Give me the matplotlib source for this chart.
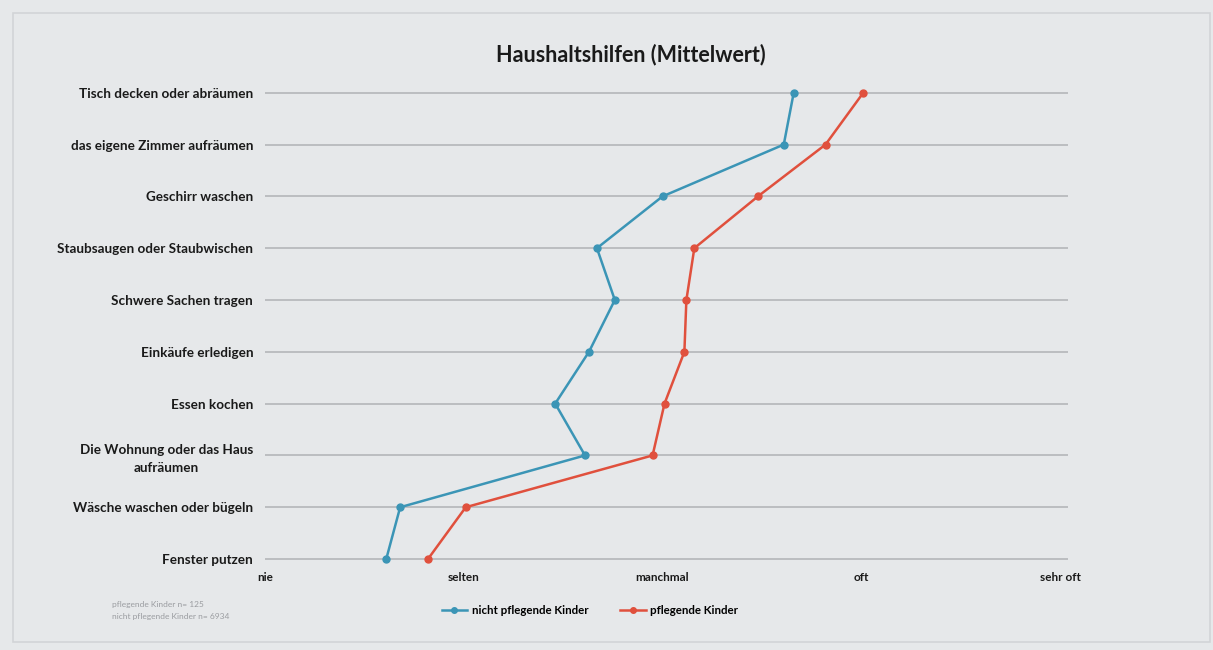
import numpy as np
import matplotlib
matplotlib.use('Agg')
import matplotlib.pyplot as plt
from matplotlib.patches import Rectangle

# Data (bottom to top as drawn)
tasks = ['Fenster putzen',
         'Wäsche waschen oder bügeln',
         'Die Wohnung oder das Haus\naufräumen',
         'Essen kochen',
         'Einkäufe erledigen',
         'Schwere Sachen tragen',
         'Staubsaugen oder Staubwischen',
         'Geschirr waschen',
         'das eigene Zimmer aufräumen',
         'Tisch decken oder abräumen',
         ]
nicht_pflegend = [1.61, 1.68, 2.61, 2.46, 2.63, 2.76, 2.67, 3.00, 3.61, 3.66]
pflegend = [1.82, 2.01, 2.95, 3.01, 3.11, 3.12, 3.16, 3.48, 3.82, 4.01]
scale_labels = ['nie', 'selten', 'manchmal', 'oft', 'sehr oft']
scale_values = [1, 2, 3, 4, 5]

BG = '#e6e8ea'
BLUE = '#3b95b6'
RED = '#e0503d'

plt.rcParams['font.family'] = ['Lato', 'DejaVu Sans']


def main():
    fig = plt.figure(figsize=(12.13, 6.5), dpi=100)
    fig.patch.set_facecolor(BG)
    fig.patches.append(Rectangle((13 / 1213, 8 / 650), 1197 / 1213, 629 / 650,
                                 transform=fig.transFigure, fill=False,
                                 edgecolor='#d2d4d7', linewidth=1.2))

    ax = fig.add_axes([265 / 1213, 1 - 569.4 / 650, 803 / 1213, 487 / 650])
    ax.set_facecolor(BG)
    y = np.arange(len(tasks))

    for yy in y:
        ax.axhline(yy, color='#b8babd', linewidth=1.3, zorder=1)

    ax.plot(nicht_pflegend, y, '-o', color=BLUE, linewidth=1.8, markersize=5,
            label='nicht pflegende Kinder', zorder=3)
    ax.plot(pflegend, y, '-o', color=RED, linewidth=1.8, markersize=5,
            label='pflegende Kinder', zorder=3)

    ax.set_xlim(1, 5.04)
    ax.set_ylim(-0.2, 9.2)
    ax.set_yticks(y)
    ax.set_yticklabels(tasks, fontsize=9.7, fontweight='bold',
                       multialignment='center', linespacing=1.6)
    ax.set_xticks(scale_values)
    ax.set_xticklabels(scale_labels, fontsize=8.5, fontweight='bold')
    ax.tick_params(axis='both', length=0, colors='#1a1a1a')
    ax.tick_params(axis='y', pad=8.5)
    ax.tick_params(axis='x', pad=2)
    for s in ax.spines.values():
        s.set_visible(False)

    fig.text(631 / 1213, 1 - 55 / 650, 'Haushaltshilfen (Mittelwert)',
             ha='center', va='center', fontsize=15.5, fontweight='bold', color='#1a1a1a')

    fig.legend(loc='center', bbox_to_anchor=(590 / 1213, 1 - 611 / 650), ncol=2,
               frameon=False, prop={'weight': 'bold', 'size': 8.3},
               handlelength=2.2, columnspacing=2.8, handletextpad=0.4,
               markerscale=0.8)

    fig.text(112 / 1213, 1 - 604 / 650, 'pflegende Kinder n= 125',
             fontsize=6, color='#9a9ca0', va='center')
    fig.text(112 / 1213, 1 - 616 / 650, 'nicht pflegende Kinder n= 6934',
             fontsize=6, color='#9a9ca0', va='center')

    fig.savefig('out.png', dpi=100, facecolor=BG)


if __name__ == '__main__':
    main()
